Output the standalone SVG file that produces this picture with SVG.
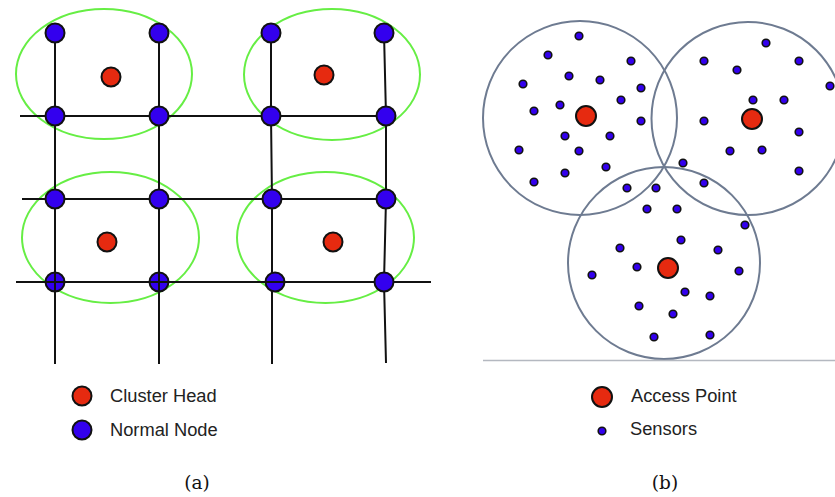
<svg xmlns="http://www.w3.org/2000/svg" width="835" height="497" viewBox="0 0 835 497">
<style>
.ln{stroke:#111;stroke-width:2;fill:none}
.cl{stroke:#66ee44;stroke-width:2;fill:none}
.rg{stroke:#6e7b91;stroke-width:2;fill:none}
.nn{fill:#3300ee;stroke:#111;stroke-width:2}
.ch{fill:#e62a10;stroke:#111;stroke-width:2}
.sn{fill:#3300ee;stroke:#111;stroke-width:1.6}
.lb{font-family:"Liberation Sans",Arial,sans-serif;font-size:18.3px;fill:#222}
.cap{font-family:"DejaVu Serif","Liberation Serif",serif;font-size:18.5px;fill:#111}
</style>
<rect width="835" height="497" fill="#fff"/>
<g id="clusters">
<ellipse class="cl" cx="104" cy="74" rx="88" ry="65"/>
<ellipse class="cl" cx="332" cy="74.5" rx="88" ry="65.5"/>
<ellipse class="cl" cx="110.5" cy="237.5" rx="88.5" ry="65.5"/>
<ellipse class="cl" cx="325.5" cy="237.5" rx="88.5" ry="65.5"/>
</g>
<g id="connectors">
<line class="ln" x1="20" y1="116" x2="386" y2="116"/>
<line class="ln" x1="22" y1="199" x2="386" y2="199"/>
<line class="ln" x1="16" y1="282" x2="431" y2="282"/>
<line class="ln" x1="55" y1="33" x2="55" y2="364"/>
<line class="ln" x1="159" y1="33" x2="159" y2="364"/>
<polyline class="ln" points="271,33 271,116 272,199 272,364"/>
<polyline class="ln" points="384,33 386,116 386,199 384,282 386,363"/>
</g>
<g id="normal-nodes">
<circle class="nn" cx="55" cy="33" r="9.5"/>
<circle class="nn" cx="159" cy="33" r="9.5"/>
<circle class="nn" cx="271" cy="33" r="9.5"/>
<circle class="nn" cx="384" cy="33" r="9.5"/>
<circle class="nn" cx="55" cy="116" r="9.5"/>
<circle class="nn" cx="159" cy="116" r="9.5"/>
<circle class="nn" cx="271" cy="116" r="9.5"/>
<circle class="nn" cx="386" cy="116" r="9.5"/>
<circle class="nn" cx="55" cy="199" r="9.5"/>
<circle class="nn" cx="159" cy="199" r="9.5"/>
<circle class="nn" cx="272" cy="199" r="9.5"/>
<circle class="nn" cx="386" cy="199" r="9.5"/>
<circle class="nn" cx="55" cy="282" r="9.5"/>
<circle class="nn" cx="159" cy="282" r="9.5"/>
<circle class="nn" cx="275" cy="282" r="9.5"/>
<circle class="nn" cx="384" cy="282" r="9.5"/>
</g>
<g id="connectors-over">
<line class="ln" x1="16" y1="282" x2="290" y2="282"/>
<line class="ln" x1="55" y1="270" x2="55" y2="294"/>
<line class="ln" x1="159" y1="270" x2="159" y2="294"/>
</g>
<g id="cluster-heads">
<circle class="ch" cx="111" cy="77" r="9.5"/>
<circle class="ch" cx="324" cy="75" r="9.5"/>
<circle class="ch" cx="107" cy="242" r="9.5"/>
<circle class="ch" cx="333" cy="242" r="9.5"/>
</g>
<g id="ranges">
<circle class="rg" cx="580" cy="118" r="97"/>
<circle class="rg" cx="748" cy="118.5" r="96.5"/>
<circle class="rg" cx="664" cy="263" r="96"/>
</g>
<line x1="483" y1="360.5" x2="835" y2="360.5" stroke="#b4b8c0" stroke-width="1.5"/>
<g id="sensors">
<circle class="sn" cx="579" cy="36" r="3.8"/>
<circle class="sn" cx="548" cy="55" r="3.8"/>
<circle class="sn" cx="631" cy="61" r="3.8"/>
<circle class="sn" cx="569" cy="76" r="3.8"/>
<circle class="sn" cx="600" cy="80" r="3.8"/>
<circle class="sn" cx="523" cy="84" r="3.8"/>
<circle class="sn" cx="641" cy="88" r="3.8"/>
<circle class="sn" cx="621" cy="100" r="3.8"/>
<circle class="sn" cx="560" cy="105" r="3.8"/>
<circle class="sn" cx="534" cy="111" r="3.8"/>
<circle class="sn" cx="641" cy="121" r="3.8"/>
<circle class="sn" cx="565" cy="136" r="3.8"/>
<circle class="sn" cx="610" cy="136" r="3.8"/>
<circle class="sn" cx="519" cy="150" r="3.8"/>
<circle class="sn" cx="579" cy="151" r="3.8"/>
<circle class="sn" cx="606" cy="167" r="3.8"/>
<circle class="sn" cx="565" cy="173" r="3.8"/>
<circle class="sn" cx="534" cy="182" r="3.8"/>
<circle class="sn" cx="627" cy="188" r="3.8"/>
<circle class="sn" cx="656" cy="188" r="3.8"/>
<circle class="sn" cx="683" cy="163" r="3.8"/>
<circle class="sn" cx="766" cy="43" r="3.8"/>
<circle class="sn" cx="704" cy="61" r="3.8"/>
<circle class="sn" cx="799" cy="61" r="3.8"/>
<circle class="sn" cx="737" cy="70" r="3.8"/>
<circle class="sn" cx="830" cy="86" r="3.8"/>
<circle class="sn" cx="753" cy="100" r="3.8"/>
<circle class="sn" cx="784" cy="100" r="3.8"/>
<circle class="sn" cx="704" cy="121" r="3.8"/>
<circle class="sn" cx="799" cy="132" r="3.8"/>
<circle class="sn" cx="730" cy="151" r="3.8"/>
<circle class="sn" cx="762" cy="150" r="3.8"/>
<circle class="sn" cx="799" cy="171" r="3.8"/>
<circle class="sn" cx="704" cy="183" r="3.8"/>
<circle class="sn" cx="647" cy="209" r="3.8"/>
<circle class="sn" cx="677" cy="209" r="3.8"/>
<circle class="sn" cx="745" cy="225" r="3.8"/>
<circle class="sn" cx="681" cy="240" r="3.8"/>
<circle class="sn" cx="620" cy="248" r="3.8"/>
<circle class="sn" cx="718" cy="250" r="3.8"/>
<circle class="sn" cx="637" cy="267" r="3.8"/>
<circle class="sn" cx="592" cy="275" r="3.8"/>
<circle class="sn" cx="739" cy="271" r="3.8"/>
<circle class="sn" cx="685" cy="292" r="3.8"/>
<circle class="sn" cx="710" cy="296" r="3.8"/>
<circle class="sn" cx="639" cy="306" r="3.8"/>
<circle class="sn" cx="673" cy="314" r="3.8"/>
<circle class="sn" cx="654" cy="337" r="3.8"/>
<circle class="sn" cx="710" cy="335" r="3.8"/>
</g>
<g id="access-points">
<circle class="ch" cx="586" cy="116" r="10"/>
<circle class="ch" cx="752" cy="119" r="10"/>
<circle class="ch" cx="668" cy="268" r="10"/>
</g>
<g id="legend-a">
<circle class="ch" cx="82" cy="396" r="9.5"/>
<text class="lb" x="110" y="402">Cluster Head</text>
<circle class="nn" cx="82" cy="430" r="9.5"/>
<text class="lb" x="110" y="436">Normal Node</text>
</g>
<g id="legend-b">
<circle class="ch" cx="602" cy="397" r="10"/>
<text class="lb" x="631" y="402">Access Point</text>
<circle class="sn" cx="602" cy="431" r="3.8"/>
<text class="lb" x="630" y="435">Sensors</text>
</g>
<text class="cap" x="197" y="489" text-anchor="middle">(a)</text>
<text class="cap" x="665" y="489" text-anchor="middle">(b)</text>
</svg>
